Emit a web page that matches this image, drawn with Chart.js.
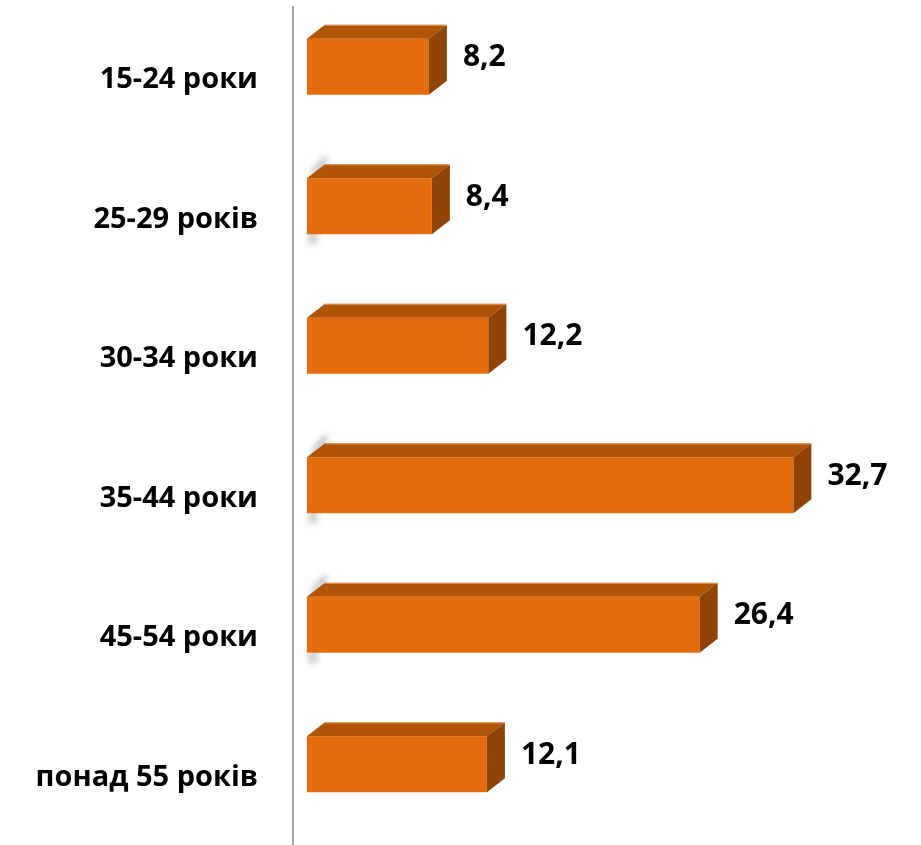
<!DOCTYPE html>
<html><head><meta charset="utf-8">
<script src="https://cdn.jsdelivr.net/npm/chart.js@4"></script>
<style>
html,body{margin:0;padding:0;background:#fff;overflow:hidden;width:921px;height:845px}
#wrap{position:absolute;left:0;top:-3px;width:921px;height:851px}
</style>
</head><body>
<div id="wrap"><canvas id="c"></canvas></div>
<script>
const categories = ["15-24 роки", "25-29 років", "30-34 роки", "35-44 роки", "45-54 роки", "понад 55 років"];
const values = [8.2, 8.4, 12.2, 32.7, 26.4, 12.1];
const valueLabels = ["8,2", "8,4", "12,2", "32,7", "26,4", "12,1"];

const FRONT = '#E46C0C', TOP = '#B05408', SIDE = '#8F4306';
const DX = 18, DY = 14;
const FONT = '"Open Sans", "DejaVu Sans", sans-serif';
const SHADOWED = [1, 3, 4];

const bar3d = {
  id: 'bar3d',
  beforeDatasetsDraw(chart) {
    const ctx = chart.ctx, ca = chart.chartArea;
    ctx.save();
    ctx.strokeStyle = '#A6A6A6';
    ctx.lineWidth = 2;
    ctx.beginPath();
    ctx.moveTo(ca.left + 1, 9);
    ctx.lineTo(ca.left + 1, chart.height);
    ctx.stroke();
    const meta = chart.getDatasetMeta(0);
    meta.data.forEach((bar, i) => {
      if (!SHADOWED.includes(i)) return;
      const p = bar.getProps(['x', 'y', 'base', 'height'], true);
      const t = p.y - p.height / 2, b = p.y + p.height / 2;
      ctx.save();
      ctx.filter = 'blur(3px)';
      ctx.fillStyle = 'rgba(60,60,60,0.45)';
      ctx.beginPath();
      ctx.moveTo(p.base + 2, t);
      ctx.lineTo(p.base + DX, t - DY);
      ctx.lineTo(p.base + DX + 2, t - DY - 10);
      ctx.lineTo(p.base + 6, t - 8);
      ctx.closePath();
      ctx.fill();
      ctx.fillStyle = 'rgba(60,60,60,0.3)';
      ctx.fillRect(p.base + 2, b - 2, 8, 12);
      ctx.restore();
    });
    ctx.restore();
  },
  afterDatasetsDraw(chart) {
    const ctx = chart.ctx;
    const meta = chart.getDatasetMeta(0);
    ctx.save();
    meta.data.forEach((bar, i) => {
      const p = bar.getProps(['x', 'y', 'base', 'height'], true);
      const t = p.y - p.height / 2, b = p.y + p.height / 2;
      ctx.fillStyle = TOP;
      ctx.beginPath();
      ctx.moveTo(p.base, t); ctx.lineTo(p.base + DX, t - DY);
      ctx.lineTo(p.x + DX, t - DY); ctx.lineTo(p.x, t); ctx.closePath(); ctx.fill();
      ctx.fillStyle = SIDE;
      ctx.beginPath();
      ctx.moveTo(p.x, t); ctx.lineTo(p.x + DX, t - DY);
      ctx.lineTo(p.x + DX, b - DY); ctx.lineTo(p.x, b); ctx.closePath(); ctx.fill();
      ctx.strokeStyle = 'rgba(240,170,110,0.8)';
      ctx.lineWidth = 1;
      ctx.beginPath();
      ctx.moveTo(p.base + DX, t - DY + 0.5); ctx.lineTo(p.x + DX, t - DY + 0.5);
      ctx.stroke();
      ctx.fillStyle = '#000';
      ctx.font = 'bold 30px ' + FONT;
      ctx.textAlign = 'left';
      ctx.textBaseline = 'middle';
      ctx.fillText(valueLabels[i], p.x + DX + 16, p.y - 9);
    });
    ctx.restore();
  }
};

new Chart(document.getElementById('c'), {
  type: 'bar',
  data: {
    labels: categories,
    datasets: [{
      data: values,
      backgroundColor: FRONT,
      borderWidth: 0,
      barPercentage: 0.4,
      categoryPercentage: 1.0
    }]
  },
  options: {
    indexAxis: 'y',
    responsive: true,
    maintainAspectRatio: false,
    animation: false,
    layout: { padding: { left: 0, right: 19, top: 0, bottom: 14 } },
    plugins: { legend: { display: false }, tooltip: { enabled: false } },
    scales: {
      x: { display: false, min: -1, max: 40 },
      y: {
        grid: { display: false, drawTicks: false },
        border: { display: false },
        afterFit(s) { s.width = 292; s.paddingTop = 0; s.paddingBottom = 0; },
        ticks: {
          color: '#000',
          padding: 34,
          labelOffset: 13,
          font: { family: FONT, size: 29, weight: 'bold' }
        }
      }
    }
  },
  plugins: [bar3d]
});
</script>
</body></html>
